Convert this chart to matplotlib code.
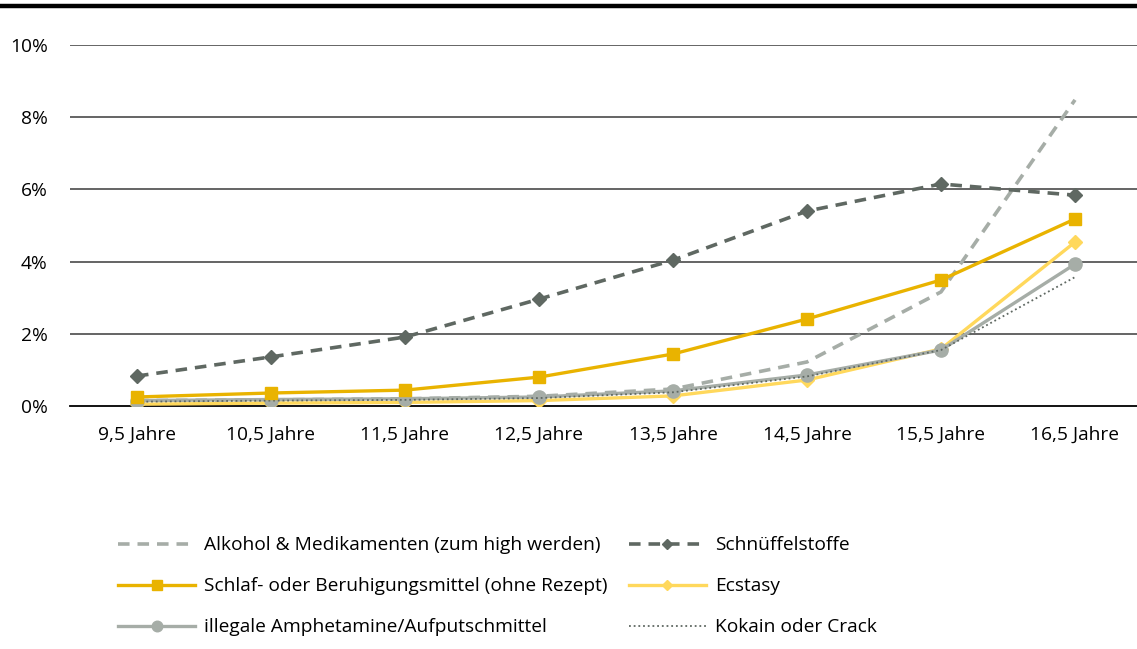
import matplotlib
matplotlib.use("Agg")
import matplotlib.pyplot as plt
from matplotlib.lines import Line2D

plt.rcParams['font.family'] = ['Open Sans', 'DejaVu Sans']

categories = ["9,5 Jahre", "10,5 Jahre", "11,5 Jahre", "12,5 Jahre",
              "13,5 Jahre", "14,5 Jahre", "15,5 Jahre", "16,5 Jahre"]
alkohol = [0.15, 0.17, 0.2, 0.27, 0.47, 1.22, 3.16, 8.48]
schnueffel = [0.83, 1.36, 1.91, 2.96, 4.04, 5.40, 6.15, 5.84]
schlaf = [0.25, 0.36, 0.44, 0.80, 1.44, 2.41, 3.49, 5.18]
ecstasy = [0.05, 0.08, 0.10, 0.15, 0.28, 0.72, 1.58, 4.54]
amph = [0.15, 0.18, 0.20, 0.25, 0.42, 0.86, 1.55, 3.93]
kokain = [0.12, 0.15, 0.17, 0.22, 0.38, 0.82, 1.55, 3.57]
yticks = [0, 2, 4, 6, 8, 10]
ytick_labels = ["0%", "2%", "4%", "6%", "8%", "10%"]

labels = ["Alkohol & Medikamenten (zum high werden)", "Schnüffelstoffe",
          "Schlaf- oder Beruhigungsmittel (ohne Rezept)", "Ecstasy",
          "illegale Amphetamine/Aufputschmittel", "Kokain oder Crack"]

c_light_gray = "#A6ADA7"
c_dark = "#5F6862"
c_gold = "#E9B300"
c_yellow = "#FFD85C"

FS = 13.8

fig = plt.figure(figsize=(11.37, 6.49), dpi=100)
ax = fig.add_axes([70/1137, 1-406/649, (1142-70)/1137, (406-45)/649])
x = list(range(len(categories)))

for yv in yticks[1:]:
    ax.axhline(yv, color="#4a4a4a", lw=1.2, zorder=1)

l_alk, = ax.plot(x, alkohol, color=c_light_gray, lw=2.6, ls=(0, (3.2, 2.2)), zorder=3)
l_eca, = ax.plot(x, ecstasy, color=c_yellow, lw=2.4, marker="D", ms=7, zorder=4)
l_amp, = ax.plot(x, amph, color=c_light_gray, lw=2.4, marker="o", ms=9.5, zorder=5)
l_kok, = ax.plot(x, kokain, color=c_dark, lw=1.3, ls=(0, (1, 1.6)), zorder=6)
l_sch, = ax.plot(x, schlaf, color=c_gold, lw=2.4, marker="s", ms=8.5, zorder=7)
l_snf, = ax.plot(x, schnueffel, color=c_dark, lw=2.6, ls=(0, (3.2, 2.2)),
                 marker="D", ms=7, zorder=8)

ax.set_xlim(-0.5, len(categories) - 0.5)
ax.set_ylim(0, 10)
ax.set_xticks(x)
ax.set_xticklabels(categories, fontsize=FS)
ax.set_yticks(yticks)
ax.set_yticklabels(ytick_labels, fontsize=FS)
ax.tick_params(axis="both", length=0)
ax.tick_params(axis="y", pad=16)
ax.tick_params(axis="x", pad=14)
for s in ["top", "right", "left"]:
    ax.spines[s].set_visible(False)
ax.spines["bottom"].set_color("black")
ax.spines["bottom"].set_linewidth(1.3)
ax.spines["bottom"].set_zorder(2)

fig.add_artist(Line2D([0, 1], [1-6/649, 1-6/649], color="black", lw=3.2,
                      transform=fig.transFigure))

handles = [l_alk, l_sch, l_amp, l_snf, l_eca, l_kok]
hlabels = [labels[0], labels[2], labels[4], labels[1], labels[3], labels[5]]
fig.legend(handles, hlabels, ncol=2, loc="upper left",
           bbox_to_anchor=(101/1137, 1-519/649), frameon=False, fontsize=FS,
           handlelength=4.0, handletextpad=0.5, columnspacing=1.1,
           labelspacing=1.2, markerscale=0.8)

fig.savefig("out.png", dpi=100)
